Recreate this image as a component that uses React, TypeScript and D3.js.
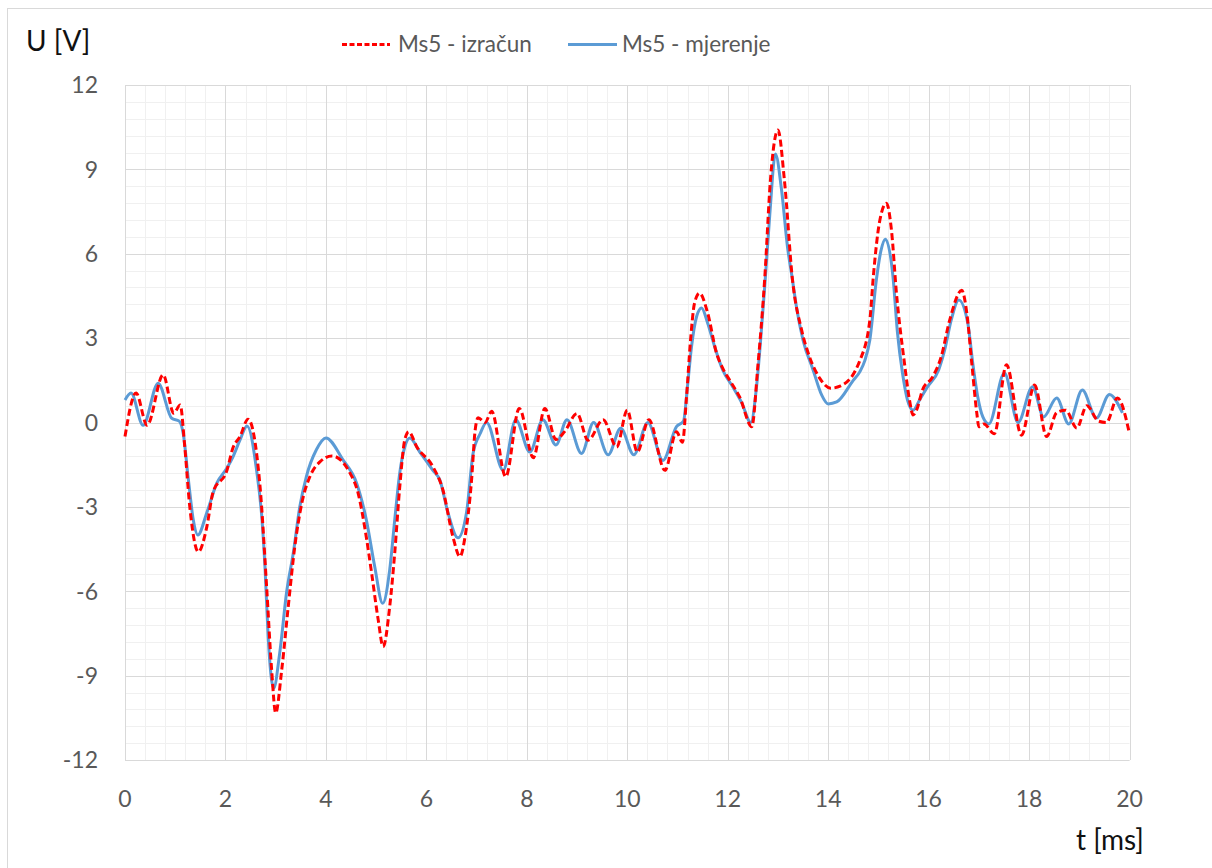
import { useEffect, useRef } from "react";
import * as d3 from "d3";

// Ms5 - izračun (calculated), t in ms, U in V
const T_CALC = [
  0.0, 0.22, 0.44, 0.76, 0.97, 1.1, 1.19, 1.29, 1.46, 1.63, 1.75, 2.03, 2.15, 2.29, 2.45,
  2.69, 2.82, 2.92, 3.0, 3.12, 3.25, 3.38, 3.52, 3.68, 3.88, 4.12, 4.48, 4.64, 4.78, 4.91,
  5.04, 5.14, 5.27, 5.37, 5.47, 5.57, 5.65, 5.81, 6.13, 6.33, 6.53, 6.67, 6.77, 6.9, 6.97,
  7.03, 7.17, 7.3, 7.58, 7.85, 8.13, 8.36, 8.58, 8.75, 9.0, 9.22, 9.52, 9.79, 10.0, 10.2,
  10.43, 10.75, 10.98, 11.1, 11.18, 11.26, 11.34, 11.44, 11.6, 11.78, 11.9, 12.04, 12.24,
  12.48, 12.6, 12.74, 12.85, 13.0, 13.13, 13.29, 13.47, 13.63, 13.83, 14.05, 14.25, 14.63,
  14.83, 14.9, 15.02, 15.16, 15.26, 15.36, 15.52, 15.62, 15.69, 15.76, 15.88, 16.08, 16.25,
  16.42, 16.66, 16.76, 16.86, 16.96, 17.0, 17.1, 17.31, 17.55, 17.85, 18.11, 18.35, 18.55,
  18.73, 18.95, 19.15, 19.38, 19.54, 19.76, 20.0,
];
const U_CALC = [
  -0.5, 1.05, -0.1, 1.7, 0.33, 0.62, -0.87, -3.0, -4.6, -3.7, -2.5, -1.7, -0.9, -0.5, 0.12,
  -2.3, -5.85, -8.8, -10.33, -8.8, -6.55, -4.42, -2.87, -1.93, -1.4, -1.19, -1.8, -2.5, -3.8, -5.35,
  -7.0, -7.97, -6.55, -4.65, -2.3, -0.62, -0.33, -0.87, -1.57, -2.4, -4.07, -4.77, -4.07, -2.05, -0.3,
  0.17, 0.0, 0.4, -1.93, 0.5, -1.25, 0.5, -0.6, -0.33, 0.32, -0.63, 0.1, -0.87, 0.44, -1.05,
  0.1, -1.7, -0.33, -0.7, 0.9, 2.93, 4.25, 4.6, 3.9, 2.45, 1.93, 1.5, 0.9,
  -0.15, 2.0, 5.2, 8.6, 10.4, 8.6, 5.07, 3.3, 2.33, 1.58, 1.22, 1.3, 2.2,
  3.64, 5.2, 7.1, 7.8, 6.85, 4.6, 2.1, 0.8, 0.27, 0.44, 1.16, 1.62, 2.33,
  3.64, 4.7, 3.9, 2.1, 0.33, -0.15, -0.05, -0.4, 2.05, -0.45, 1.33, -0.5, 0.35,
  0.44, -0.2, 0.6, 0.05, 0.0, 0.87, -0.4,
];

// Ms5 - mjerenje (measured)
const T_MEAS = [
  0.0, 0.12, 0.36, 0.66, 0.93, 1.08, 1.16, 1.26, 1.36, 1.45, 1.63, 1.83, 2.03, 2.15, 2.29,
  2.43, 2.62, 2.73, 2.79, 2.85, 2.96, 3.08, 3.22, 3.35, 3.48, 3.61, 3.81, 4.0, 4.34, 4.61,
  4.81, 4.97, 5.13, 5.27, 5.37, 5.47, 5.57, 5.67, 5.87, 6.13, 6.27, 6.43, 6.63, 6.8, 6.93,
  7.07, 7.2, 7.53, 7.78, 8.06, 8.32, 8.58, 8.8, 9.09, 9.33, 9.62, 9.87, 10.13, 10.41, 10.71,
  10.98, 11.12, 11.2, 11.28, 11.38, 11.48, 11.6, 11.74, 11.9, 12.1, 12.28, 12.46, 12.57,
  12.65, 12.74, 12.84, 12.95, 13.07, 13.19, 13.29, 13.37, 13.5, 13.7, 13.87, 14.0, 14.17,
  14.5, 14.63, 14.73, 14.83, 14.96, 15.05, 15.14, 15.29, 15.38, 15.48, 15.58, 15.69, 15.82,
  15.98, 16.2, 16.32, 16.45, 16.6, 16.78, 16.88, 16.98, 17.08, 17.2, 17.51, 17.78, 18.07,
  18.29, 18.55, 18.79, 19.06, 19.34, 19.6, 19.86,
];
const U_MEAS = [
  0.8, 1.05, -0.1, 1.4, 0.15, 0.05, -0.4, -2.0, -3.47, -4.0, -3.2, -2.15, -1.62, -1.22, -0.62,
  -0.12, -1.7, -3.5, -5.24, -7.6, -9.45, -8.2, -6.0, -4.65, -3.0, -1.93, -0.97, -0.55, -1.33, -2.15,
  -3.5, -5.1, -6.43, -5.24, -3.47, -1.8, -0.87, -0.55, -1.05, -1.7, -2.05, -3.2, -4.1, -3.2, -1.1,
  -0.4, 0.0, -1.7, 0.1, -1.05, 0.1, -0.8, 0.1, -1.1, 0.0, -1.15, -0.2, -1.15, 0.0, -1.35,
  -0.15, 0.05, 1.3, 2.7, 3.76, 4.07, 3.54, 2.7, 1.87, 1.27, 0.7, 0.0, 1.2,
  2.8, 4.9, 7.44, 9.55, 8.3, 6.25, 5.07, 4.1, 2.93, 1.87, 0.98, 0.66, 0.73,
  1.5, 1.8, 2.2, 2.93, 5.07, 6.1, 6.52, 5.2, 3.2, 1.76, 0.8, 0.44, 0.8,
  1.27, 1.87, 2.58, 3.64, 4.36, 3.54, 2.1, 0.9, 0.2, -0.05, 1.76, 0.0, 1.27,
  0.2, 0.87, -0.05, 1.16, 0.16, 1.0, 0.34,
];

const X_TICKS = [0, 2, 4, 6, 8, 10, 12, 14, 16, 18, 20];
const Y_TICKS = [-12, -9, -6, -3, 0, 3, 6, 9, 12];
const SERIES_NAMES = ["Ms5 - izračun", "Ms5 - mjerenje"];
const X_TITLE = "t [ms]";
const Y_TITLE = "U [V]";

const FONT = "Lato, 'Open Sans', sans-serif";
const RED = "#ff0000";
const BLUE = "#5b9bd5";

export default function App() {
  const svgRef = useRef<SVGSVGElement>(null);

  useEffect(() => {
    if (!svgRef.current) return;
    const svg = d3.select(svgRef.current);
    svg.selectAll("*").remove();

    const left = 125, right = 1129.5, top = 85, bottom = 760;
    const x = d3.scaleLinear().domain([0, 20]).range([left, right]);
    const y = d3.scaleLinear().domain([-12, 12]).range([bottom, top]);
    const crisp = (v: number) => Math.round(v) + 0.5;

    // chart frame
    svg.append("rect")
      .attr("x", 7.5).attr("y", 8.5)
      .attr("width", 1220).attr("height", 880)
      .attr("fill", "#fff").attr("stroke", "#d9d9d9");

    // --- grid ---
    const minorX = d3.range(0, 51).map((i) => i * 0.4);
    const minorY = d3.range(0, 41).map((i) => -12 + i * 0.6);
    const grid = svg.append("g");
    grid.selectAll("line.mx").data(minorX).join("line")
      .attr("x1", (d) => crisp(x(d))).attr("x2", (d) => crisp(x(d)))
      .attr("y1", top).attr("y2", bottom)
      .attr("stroke", "#f0f0f0");
    grid.selectAll("line.my").data(minorY).join("line")
      .attr("y1", (d) => crisp(y(d))).attr("y2", (d) => crisp(y(d)))
      .attr("x1", left).attr("x2", right)
      .attr("stroke", "#f0f0f0");
    grid.selectAll("line.Mx").data(X_TICKS).join("line")
      .attr("x1", (d) => crisp(x(d))).attr("x2", (d) => crisp(x(d)))
      .attr("y1", top).attr("y2", bottom)
      .attr("stroke", "#d9d9d9");
    grid.selectAll("line.My").data(Y_TICKS).join("line")
      .attr("y1", (d) => crisp(y(d))).attr("y2", (d) => crisp(y(d)))
      .attr("x1", left).attr("x2", right)
      .attr("stroke", "#d9d9d9");

    // --- tick labels ---
    svg.append("g").selectAll("text").data(Y_TICKS).join("text")
      .attr("x", 98).attr("y", (d) => y(d)).attr("dy", "0.36em")
      .attr("text-anchor", "end")
      .attr("font-family", FONT).attr("font-size", 23).attr("fill", "#595959")
      .text((d) => String(d));
    svg.append("g").selectAll("text").data(X_TICKS).join("text")
      .attr("x", (d) => x(d)).attr("y", 807)
      .attr("text-anchor", "middle")
      .attr("font-family", FONT).attr("font-size", 23).attr("fill", "#595959")
      .text((d) => String(d));

    // --- axis titles ---
    svg.append("text")
      .attr("x", 26).attr("y", 51)
      .attr("font-family", FONT).attr("font-size", 28).attr("fill", "#111")
      .text(Y_TITLE);
    svg.append("text")
      .attr("x", 1076).attr("y", 850)
      .attr("font-family", FONT).attr("font-size", 28).attr("fill", "#111")
      .text(X_TITLE);

    // --- series ---
    const line = d3.line<[number, number]>()
      .x((d) => x(d[0]))
      .y((d) => y(d[1]))
      .curve(d3.curveMonotoneX);

    const calc = T_CALC.map((t, i) => [t, U_CALC[i]] as [number, number]);
    const meas = T_MEAS.map((t, i) => [t, U_MEAS[i]] as [number, number]);

    svg.append("path")
      .attr("d", line(meas))
      .attr("fill", "none")
      .attr("stroke", BLUE)
      .attr("stroke-width", 3)
      .attr("stroke-linejoin", "round");

    svg.append("path")
      .attr("d", line(calc))
      .attr("fill", "none")
      .attr("stroke", RED)
      .attr("stroke-width", 3)
      .attr("stroke-dasharray", "7,3.5");

    // --- legend ---
    const leg = svg.append("g").attr("font-family", FONT).attr("font-size", 22.5).attr("fill", "#595959");
    leg.append("line")
      .attr("x1", 342).attr("x2", 390).attr("y1", 44.5).attr("y2", 44.5)
      .attr("stroke", RED).attr("stroke-width", 3).attr("stroke-dasharray", "5,2.5");
    leg.append("text").attr("x", 398).attr("y", 52).text(SERIES_NAMES[0]);
    leg.append("line")
      .attr("x1", 568).attr("x2", 617).attr("y1", 44.5).attr("y2", 44.5)
      .attr("stroke", BLUE).attr("stroke-width", 3);
    leg.append("text").attr("x", 622).attr("y", 52).text(SERIES_NAMES[1]);
  }, []);

  return (
    <svg
      ref={svgRef}
      width={1212}
      height={868}
      style={{ position: "absolute", left: 0, top: 0, display: "block" }}
    />
  );
}
